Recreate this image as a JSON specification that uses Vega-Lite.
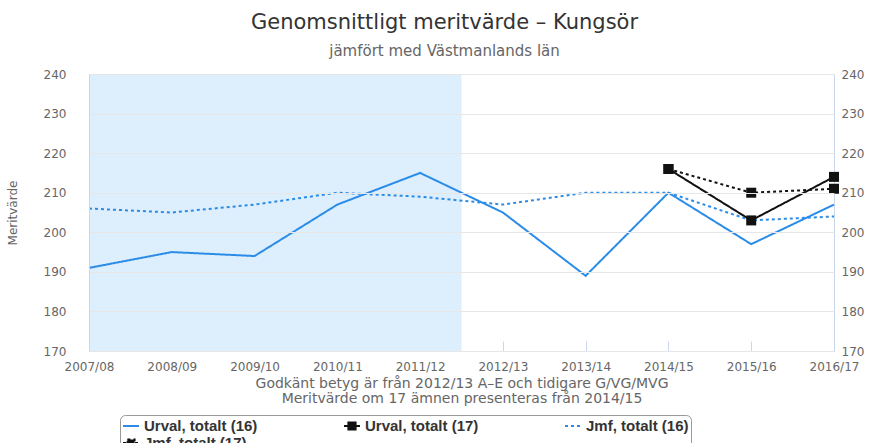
{
  "$schema": "https://vega.github.io/schema/vega-lite/v6.json",
  "width": 745,
  "height": 277,
  "autosize": "none",
  "padding": {"left": 89, "top": 74, "right": 49, "bottom": 92},
  "background": "white",
  "config": {
    "view": {"stroke": null},
    "font": "DejaVu Sans"
  },
  "title": {
    "text": "Genomsnittligt meritvärde – Kungsör",
    "subtitle": "jämfört med Västmanlands län",
    "anchor": "middle",
    "dx": -17,
    "offset": 9,
    "font": "DejaVu Sans",
    "fontSize": 21,
    "fontWeight": "normal",
    "color": "#333333",
    "subtitleFont": "DejaVu Sans",
    "subtitleFontSize": 15,
    "subtitleColor": "#666666",
    "subtitlePadding": 11
  },
  "datasets": {
    "lines": [
      {"year": 2007, "series": "Urval, totalt (16)", "value": 191},
      {"year": 2008, "series": "Urval, totalt (16)", "value": 195},
      {"year": 2009, "series": "Urval, totalt (16)", "value": 194},
      {"year": 2010, "series": "Urval, totalt (16)", "value": 207},
      {"year": 2011, "series": "Urval, totalt (16)", "value": 215},
      {"year": 2012, "series": "Urval, totalt (16)", "value": 205},
      {"year": 2013, "series": "Urval, totalt (16)", "value": 189},
      {"year": 2014, "series": "Urval, totalt (16)", "value": 210},
      {"year": 2015, "series": "Urval, totalt (16)", "value": 197},
      {"year": 2016, "series": "Urval, totalt (16)", "value": 207},
      {"year": 2007, "series": "Jmf, totalt (16)", "value": 206},
      {"year": 2008, "series": "Jmf, totalt (16)", "value": 205},
      {"year": 2009, "series": "Jmf, totalt (16)", "value": 207},
      {"year": 2010, "series": "Jmf, totalt (16)", "value": 210},
      {"year": 2011, "series": "Jmf, totalt (16)", "value": 209},
      {"year": 2012, "series": "Jmf, totalt (16)", "value": 207},
      {"year": 2013, "series": "Jmf, totalt (16)", "value": 210},
      {"year": 2014, "series": "Jmf, totalt (16)", "value": 210},
      {"year": 2015, "series": "Jmf, totalt (16)", "value": 203},
      {"year": 2016, "series": "Jmf, totalt (16)", "value": 204},
      {"year": 2014, "series": "Urval, totalt (17)", "value": 216},
      {"year": 2015, "series": "Urval, totalt (17)", "value": 203},
      {"year": 2016, "series": "Urval, totalt (17)", "value": 214},
      {"year": 2014, "series": "Jmf, totalt (17)", "value": 216},
      {"year": 2015, "series": "Jmf, totalt (17)", "value": 210},
      {"year": 2016, "series": "Jmf, totalt (17)", "value": 211}
    ],
    "shade": [{"start": 2007, "end": 2011.5}]
  },
  "layer": [
    {
      "data": {"name": "shade"},
      "mark": {"type": "rect", "color": "#ddeefd"},
      "encoding": {
        "x": {"field": "start", "type": "quantitative"},
        "x2": {"field": "end"}
      }
    },
    {
      "data": {"name": "lines"},
      "mark": {"type": "line", "strokeWidth": 2, "interpolate": "linear"},
      "encoding": {
        "x": {
          "field": "year",
          "type": "quantitative",
          "scale": {"domain": [2007, 2016], "nice": false, "zero": false},
          "axis": {
            "values": [2007, 2008, 2009, 2010, 2011, 2012, 2013, 2014, 2015, 2016],
            "labelExpr": "datum.value + '/' + substring(toString(datum.value + 1), 2, 4)",
            "grid": false,
            "domainColor": "#ccd6eb",
            "tickColor": "#ccd6eb",
            "tickSize": -10,
            "labelPadding": 20,
            "labelFont": "DejaVu Sans",
            "labelFontSize": 12,
            "labelColor": "#666666",
            "labelFlush": false,
            "title": ["Godkänt betyg är från 2012/13 A–E och tidigare G/VG/MVG", "Meritvärde om 17 ämnen presenteras från 2014/15"],
            "titleFont": "DejaVu Sans",
            "titleFontSize": 14,
            "titleFontWeight": "normal",
            "titleColor": "#666666",
            "titlePadding": 4,
            "titleLineHeight": 15
          }
        },
        "y": {
          "field": "value",
          "type": "quantitative",
          "scale": {"domain": [170, 240], "nice": false, "zero": false},
          "axis": {
            "orient": "left",
            "values": [170, 180, 190, 200, 210, 220, 230, 240],
            "grid": true,
            "gridColor": "#e6e6e6",
            "zindex": 1,
            "ticks": false,
            "domainColor": "#ccd6eb",
            "labelPadding": 23,
            "labelFont": "DejaVu Sans",
            "labelFontSize": 12,
            "labelColor": "#666666",
            "title": "Meritvärde",
            "titleFont": "DejaVu Sans",
            "titleFontSize": 12,
            "titleFontWeight": "normal",
            "titleColor": "#666666",
            "titlePadding": 24
          }
        },
        "color": {
          "field": "series",
          "type": "nominal",
          "sort": null,
          "scale": {
            "domain": ["Urval, totalt (16)", "Urval, totalt (17)", "Jmf, totalt (16)", "Jmf, totalt (17)"],
            "range": ["#2b8ce8", "#111111", "#2b8ce8", "#111111"]
          },
          "legend": {
            "orient": "none",
            "legendX": 31,
            "legendY": 341,
            "direction": "horizontal",
            "columns": 3,
            "columnPadding": 82,
            "rowPadding": -5,
            "title": null,
            "padding": 2,
            "strokeColor": "#999999",
            "cornerRadius": 5,
            "symbolSize": 256,
            "symbolStrokeWidth": 2,
            "labelFont": "Liberation Sans",
            "labelFontSize": 15,
            "labelFontWeight": "bold",
            "labelColor": "#333333",
            "labelOffset": 4,
            "labelLimit": 300,
            "encode": {
              "symbols": {
                "update": {
                  "shape": {"signal": "indexof(datum.value, '(17)') >= 0 ? 'M-1,0H1M-0.45,-0.45H0.45V0.45H-0.45Z' : 'stroke'"},
                  "fill": {"signal": "indexof(datum.value, '(17)') >= 0 ? '#111111' : 'transparent'"},
                  "strokeDash": {"signal": "indexof(datum.value, 'Jmf') == 0 ? [2, 3] : [1, 0]"}
                }
              }
            }
          }
        },
        "strokeDash": {
          "field": "series",
          "type": "nominal",
          "scale": {
            "domain": ["Urval, totalt (16)", "Urval, totalt (17)", "Jmf, totalt (16)", "Jmf, totalt (17)"],
            "range": [[1, 0], [1, 0], [3, 3], [3, 3]]
          },
          "legend": null
        }
      }
    },
    {
      "data": {"name": "lines"},
      "transform": [{"filter": "indexof(datum.series, '(17)') >= 0"}],
      "mark": {"type": "point", "shape": "square", "filled": true, "size": 100, "opacity": 1, "color": "#111111"},
      "encoding": {
        "x": {"field": "year", "type": "quantitative"},
        "y": {
          "field": "value",
          "type": "quantitative",
          "scale": {"domain": [170, 240], "nice": false, "zero": false},
          "axis": {
            "orient": "right",
            "values": [170, 180, 190, 200, 210, 220, 230, 240],
            "grid": false,
            "ticks": false,
            "domainColor": "#ccd6eb",
            "labelPadding": 7,
            "labelFont": "DejaVu Sans",
            "labelFontSize": 12,
            "labelColor": "#666666",
            "title": null
          }
        }
      }
    }
  ],
  "resolve": {"scale": {"y": "independent"}, "axis": {"y": "independent"}}
}
